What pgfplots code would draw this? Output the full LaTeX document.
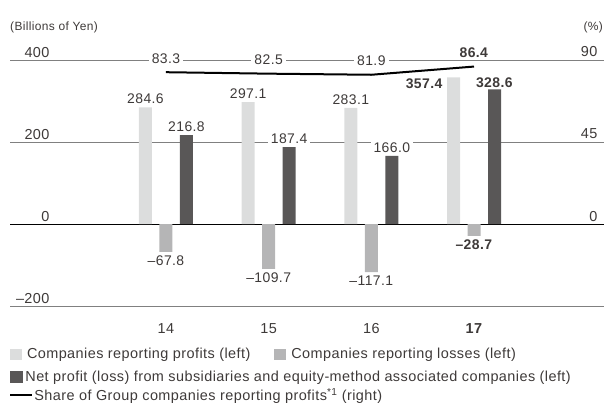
\documentclass[border=0pt]{standalone}
\usepackage{fontspec}
\setmainfont{Liberation Sans}[LetterSpace=3]
\usepackage{pgfplots}
\pgfplotsset{compat=1.18}
\definecolor{cprof}{HTML}{DCDDDD}
\definecolor{closs}{HTML}{B5B5B6}
\definecolor{cnet}{HTML}{595757}
\definecolor{cgrid}{HTML}{808080}
\definecolor{ctext}{HTML}{3E3A39}
\begin{document}
\begin{tikzpicture}[x=1bp,y=1bp]
\useasboundingbox (0,0) rectangle (604,403);
\tikzset{vl/.style={font=\fontsize{14}{14}\selectfont, text=ctext, fill=white, inner xsep=3bp, inner ysep=1.5bp}}
\begin{axis}[
  at={(10bp,97bp)}, anchor=south west,
  scale only axis, width=594bp, height=246bp,
  xmin=-1.519, xmax=4.266, ymin=-200, ymax=400,
  axis line style={draw=none},
  major tick length=0pt,
  xtick={0,1,2,3}, xticklabels={14,15,16,\textbf{17}},
  ytick={-200,200,400}, yticklabels={\textendash200,200,400},
  extra y ticks={0}, extra y tick labels={0},
  extra y tick style={major grid style={draw=black, line width=0.9bp}},
  ymajorgrids, major grid style={draw=cgrid, line width=0.8bp},
  ticklabel style={font=\fontsize{14.5}{14.5}\selectfont, text=ctext},
  yticklabel style={anchor=base east, xshift=43bp, yshift=3bp},
  xticklabel style={anchor=base, yshift=-27bp},
  clip=false,
  legend columns=2, legend cell align=left,
  legend style={draw=none, fill=none, inner sep=0pt, outer sep=0pt,
    at={(0,0)}, anchor=west, yshift=-48.5bp,
    font=\fontsize{14.5}{14.5}\selectfont, text=ctext,
    column sep=0pt, nodes={inner sep=0pt},
    /tikz/every odd column/.append style={column sep=5bp},
    /tikz/every even column/.append style={column sep=24bp}},
]
\addplot[ybar, bar width=13bp, bar shift=-20.5bp, fill=cprof, draw=none,
  legend image code/.code={\fill[cprof] (0bp,-5.5bp) rectangle (12bp,5.5bp);}]
  coordinates {(0,284.6) (1,297.1) (2,283.1) (3,357.4)};
\addlegendentry{Companies reporting profits (left)}
\addplot[ybar, bar width=13bp, bar shift=0bp, fill=closs, draw=none,
  legend image code/.code={\fill[closs] (0bp,-5.5bp) rectangle (12bp,5.5bp);}]
  coordinates {(0,-67.8) (1,-109.7) (2,-117.1) (3,-28.7)};
\addlegendentry{Companies reporting losses (left)}
\addplot[ybar, bar width=13bp, bar shift=20.5bp, fill=cnet, draw=none, forget plot]
  coordinates {(0,216.8) (1,187.4) (2,166.0) (3,328.6)};
% labels of profits
\node[vl, anchor=south, xshift=-20.5bp, yshift=2bp] at (axis cs:0,284.6) {284.6};
\node[vl, anchor=south, xshift=-20.5bp, yshift=2bp] at (axis cs:1,297.1) {297.1};
\node[vl, anchor=south, xshift=-20.5bp, yshift=2bp] at (axis cs:2,283.1) {283.1};
\node[vl, anchor=north east, xshift=-28bp, yshift=0bp] at (axis cs:3,357.4) {\textbf{357.4}};
% labels of losses
\node[vl, anchor=north, yshift=-2.5bp] at (axis cs:0,-67.8) {\textendash67.8};
\node[vl, anchor=north, yshift=-2.5bp] at (axis cs:1,-109.7) {\textendash109.7};
\node[vl, anchor=north, yshift=-2.5bp] at (axis cs:2,-117.1) {\textendash117.1};
\node[vl, anchor=north, yshift=-2.5bp] at (axis cs:3,-28.7) {\textbf{\textendash28.7}};
% labels of net
\node[vl, anchor=south, xshift=20.5bp, yshift=2bp] at (axis cs:0,216.8) {216.8};
\node[vl, anchor=south, xshift=20.5bp, yshift=2bp] at (axis cs:1,187.4) {187.4};
\node[vl, anchor=south, xshift=20.5bp, yshift=2bp] at (axis cs:2,166.0) {166.0};
\node[vl, anchor=south, xshift=20.5bp, yshift=0bp] at (axis cs:3,328.6) {\textbf{328.6}};
\end{axis}
\begin{axis}[
  at={(10bp,97bp)}, anchor=south west,
  scale only axis, width=594bp, height=246bp,
  xmin=-1.519, xmax=4.266, ymin=-45, ymax=90,
  axis line style={draw=none},
  major tick length=0pt,
  xtick=\empty,
  ytick={0,45,90}, yticklabels={0,45,90}, yticklabel pos=right,
  ticklabel style={font=\fontsize{14.5}{14.5}\selectfont, text=ctext},
  yticklabel style={anchor=base east, xshift=-3bp, yshift=3bp},
  clip=false,
  legend columns=1, legend cell align=left,
  legend style={draw=none, fill=none, inner sep=0pt, outer sep=0pt,
    at={(0,0)}, anchor=west, yshift=-80.5bp,
    font=\fontsize{14.5}{14.5}\selectfont, text=ctext,
    column sep=0pt, row sep=5bp, nodes={inner sep=0pt},
    /tikz/every odd column/.append style={column sep=3bp}},
]
\addlegendimage{legend image code/.code={\fill[cnet] (0bp,-5.5bp) rectangle (12bp,5.5bp);}}
\addlegendentry{Net profit (loss) from subsidiaries and equity-method associated companies (left)}
\addplot[black, line width=2bp, mark=none,
  nodes near coords, point meta=explicit symbolic,
  every node near coord/.append style={vl, anchor=south, yshift=6.5bp},
  legend image code/.code={\draw[black, line width=2bp, overlay] (0bp,0bp) -- (22bp,0bp); \path[draw=none, fill=none] (0bp,-5.5bp) rectangle (12bp,5.5bp);}]
  coordinates {(0,83.3)[83.3] (1,82.5)[82.5] (2,81.9)[81.9] (3,86.4)[\textbf{86.4}]};
\addlegendentry{\hspace{9bp}Share of Group companies reporting profits\textsuperscript{*1} (right)}
\end{axis}
\node[anchor=west, font=\fontsize{12}{12}\selectfont, text=ctext, inner sep=0pt] at (10,376) {(Billions of Yen)};
\node[anchor=east, font=\fontsize{12}{12}\selectfont, text=ctext, inner sep=0pt] at (603,376) {(\%)};
\end{tikzpicture}
\end{document}
